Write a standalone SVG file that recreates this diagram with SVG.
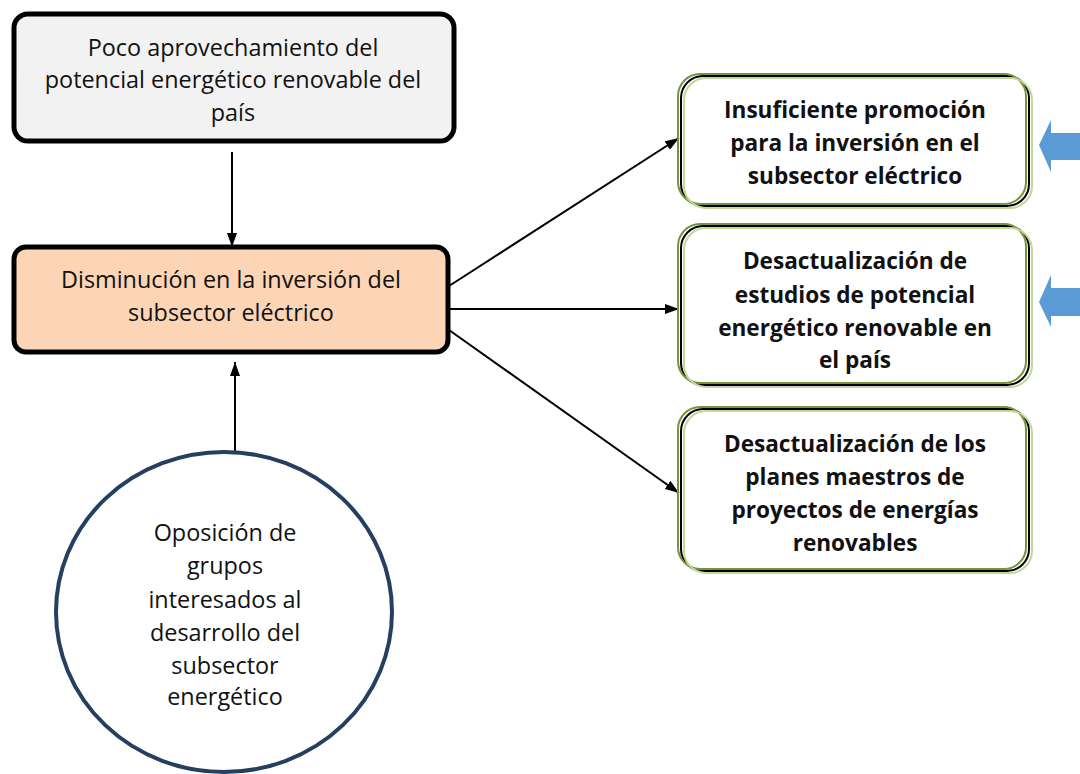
<svg xmlns="http://www.w3.org/2000/svg" width="1080" height="774" viewBox="0 0 1080 774">
<defs>
<style>
.t{font-family:"Open Sans",Lato,sans-serif;font-size:23.4px;fill:#111;text-anchor:middle}
.b{font-weight:bold;font-size:22.6px}
.c{stroke:#000;stroke-width:2;fill:none}
.olive{fill:none;stroke:#77933c;stroke-width:2}
.blk{fill:#fff;stroke:#000;stroke-width:2}
.lg{fill:none;stroke:#c3d69b;stroke-width:2}
.blue{fill:#5b9bd5}
</style>
<marker id="ah" viewBox="0 0 14 10" refX="14" refY="5" markerWidth="14" markerHeight="10" markerUnits="userSpaceOnUse" orient="auto">
<path d="M0,0 L14,5 L0,10 z" fill="#000"/>
</marker>
</defs>
<rect width="1080" height="774" fill="#fff"/>
<g id="connectors">
<line class="c" x1="232" y1="152" x2="232" y2="247" marker-end="url(#ah)"/>
<line class="c" x1="235" y1="451" x2="235" y2="362" marker-end="url(#ah)"/>
<line class="c" x1="449" y1="286" x2="679" y2="138" marker-end="url(#ah)"/>
<line class="c" x1="449" y1="309" x2="679" y2="309" marker-end="url(#ah)"/>
<line class="c" x1="449" y1="330" x2="679" y2="493" marker-end="url(#ah)"/>
</g>
<g id="node-top">
<rect x="14" y="14" width="440" height="127" rx="14" fill="#f2f2f2" stroke="#000" stroke-width="5"/>
<text class="t"><tspan x="233" y="56">Poco aprovechamiento del</tspan><tspan x="233" y="88">potencial energético renovable del</tspan><tspan x="233" y="121">país</tspan></text>
</g>
<g id="node-center">
<rect x="14" y="247" width="434" height="105" rx="12" fill="#fbd5b5" stroke="#000" stroke-width="5"/>
<text class="t"><tspan x="231" y="288">Disminución en la inversión del</tspan><tspan x="231" y="321">subsector eléctrico</tspan></text>
</g>
<g id="node-circle">
<ellipse cx="224" cy="612" rx="168" ry="160" fill="#fff" stroke="#243f60" stroke-width="4"/>
<text class="t"><tspan x="225" y="541">Oposición de</tspan><tspan x="225" y="574">grupos</tspan><tspan x="225" y="608">interesados al</tspan><tspan x="225" y="641">desarrollo del</tspan><tspan x="225" y="674">subsector</tspan><tspan x="225" y="705">energético</tspan></text>
</g>
<g id="node-r1">
<rect class="blk" x="681" y="76" width="348" height="130" rx="22"/>
<rect class="olive" x="678" y="74" width="348" height="130" rx="22"/>
<rect class="lg" x="684" y="78" width="348" height="130" rx="22"/>
<text class="t b"><tspan x="855" y="118">Insuficiente promoción</tspan><tspan x="855" y="151">para la inversión en el</tspan><tspan x="855" y="184">subsector eléctrico</tspan></text>
</g>
<g id="node-r2">
<rect class="blk" x="681" y="226" width="348" height="159" rx="22"/>
<rect class="olive" x="678" y="224" width="348" height="159" rx="22"/>
<rect class="lg" x="684" y="228" width="348" height="159" rx="22"/>
<text class="t b"><tspan x="855" y="269">Desactualización de</tspan><tspan x="855" y="303">estudios de potencial</tspan><tspan x="855" y="336">energético renovable en</tspan><tspan x="855" y="368">el país</tspan></text>
</g>
<g id="node-r3">
<rect class="blk" x="681" y="409" width="348" height="162" rx="22"/>
<rect class="olive" x="678" y="407" width="348" height="162" rx="22"/>
<rect class="lg" x="684" y="411" width="348" height="162" rx="22"/>
<text class="t b"><tspan x="855" y="452">Desactualización de los</tspan><tspan x="855" y="485">planes maestros de</tspan><tspan x="855" y="518">proyectos de energías</tspan><tspan x="855" y="551">renovables</tspan></text>
</g>
<g id="blue-arrows">
<polygon class="blue" points="1039,145 1051,120 1051,133 1080,133 1080,160 1051,160 1051,172"/>
<polygon class="blue" points="1039,302 1051,275 1051,288 1080,288 1080,316 1051,316 1051,327"/>
</g>
</svg>
